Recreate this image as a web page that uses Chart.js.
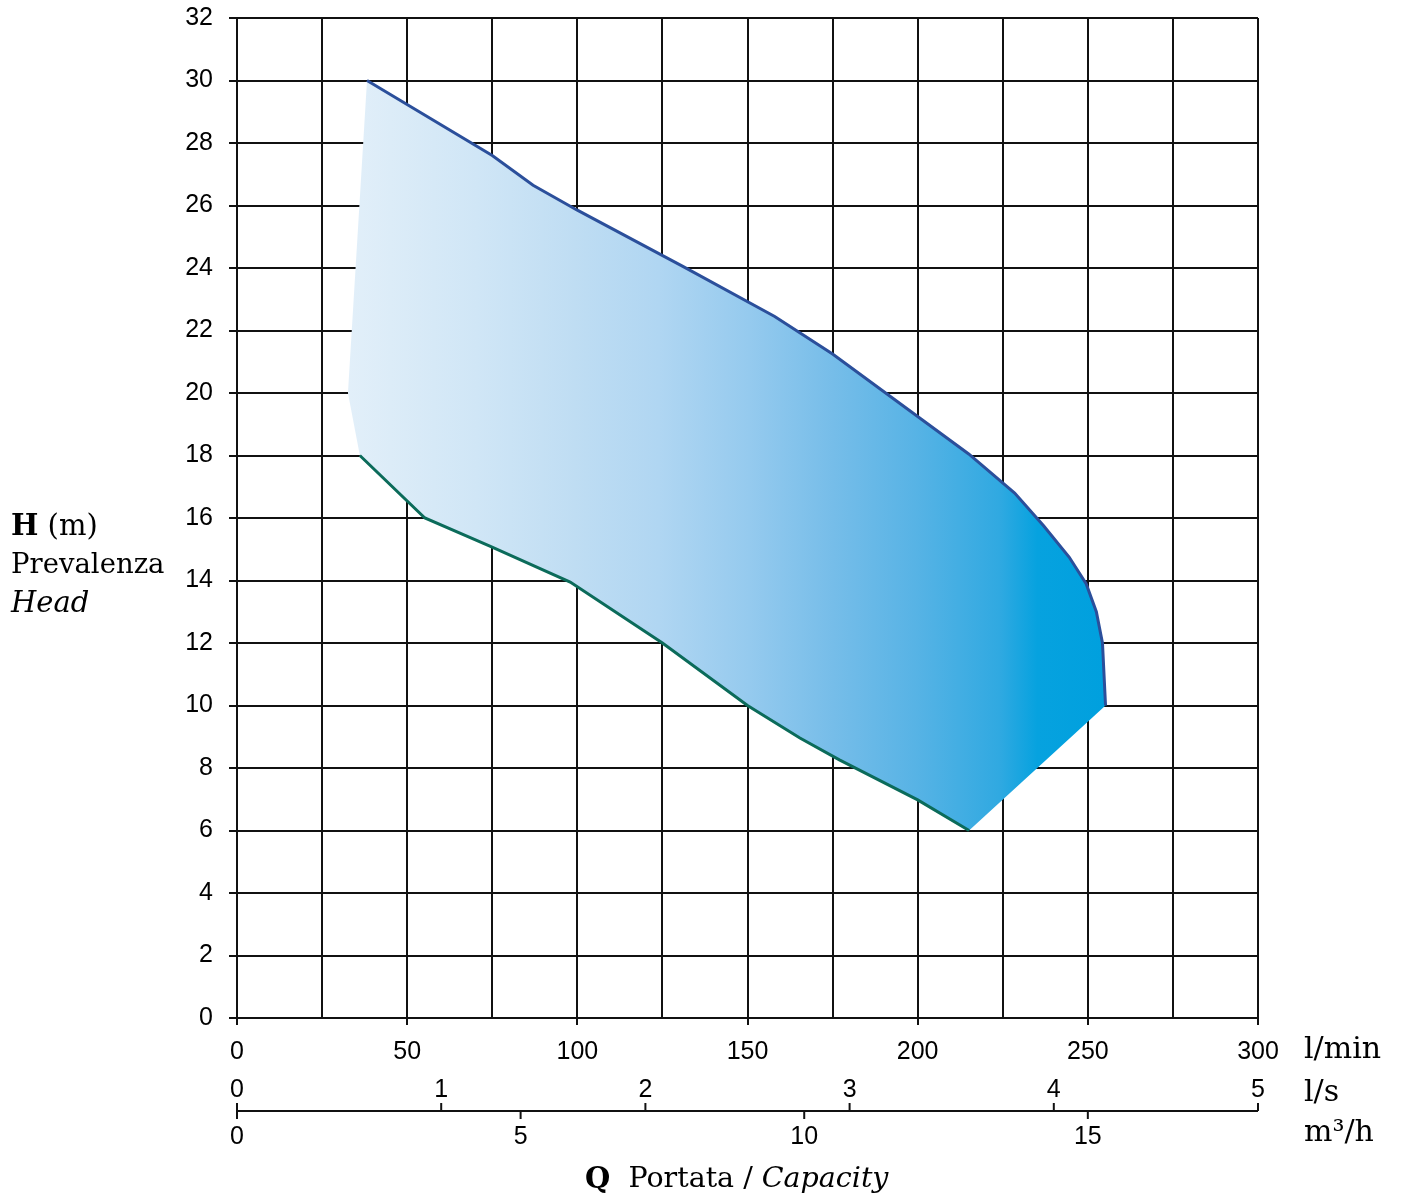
<!DOCTYPE html>
<html><head><meta charset="utf-8">
<script src="https://cdn.jsdelivr.net/npm/chart.js@4.4.0/dist/chart.umd.min.js"></script>
<style>html,body{margin:0;padding:0;background:#fff;}#wrap{width:1402px;height:1203px;}</style>
</head><body><div id="wrap"><canvas id="c" width="1402" height="1203"></canvas></div>
<script>
// ---- data (l/min vs m) ----
const flowMin = 0, flowMax = 300;          // l/min
const headMin = 0, headMax = 32;           // m
const lpsTicks = [0, 1, 2, 3, 4, 5];       // l/s
const m3hTicks = [0, 5, 10, 15];           // m3/h
const upperQ = [38.2, 75, 87, 100, 131, 158, 175, 200, 215, 228.5, 237, 244.5, 249.5, 252.5, 254.3, 255.2];
const upperH = [30, 27.6, 26.65, 25.85, 24.05, 22.45, 21.25, 19.25, 18.05, 16.8, 15.75, 14.75, 13.9, 13.0, 12.0, 10.0];
const lowerQ = [36.1, 55.2, 74.3, 97.9, 125, 150, 165.4, 177, 200, 215.1];
const lowerH = [18, 16, 15.1, 13.95, 12, 10, 8.96, 8.26, 6.98, 6.0];
const leftEdgeQ = [32.6];
const leftEdgeH = [20];

const toPts = (qs, hs) => qs.map((q, i) => ({x: q, y: hs[i]}));
const upperPts = toPts(upperQ, upperH);
const lowerPts = toPts(lowerQ, lowerH);
const areaPts = upperPts
  .concat(lowerPts.slice().reverse())
  .concat(toPts(leftEdgeQ, leftEdgeH))
  .concat([upperPts[0]]);

const SANS = '"Liberation Sans", Arial, sans-serif';
const SERIF = '"DejaVu Serif", Georgia, serif';

function areaGradient(context) {
  const chart = context.chart;
  const sx = chart.scales.x;
  if (!chart.chartArea || !sx) return 'rgba(160,210,240,1)';
  const x0 = sx.getPixelForValue(Math.min(...leftEdgeQ, ...lowerQ, ...upperQ));
  const x1 = sx.getPixelForValue(Math.max(...upperQ));
  const g = chart.ctx.createLinearGradient(x0, 0, x1, 0);
  const stops = [[0,'#e2eff9'],[0.17,'#d0e6f6'],[0.30,'#bfddf3'],[0.41,'#b0d6f2'],[0.53,'#95caee'],
                 [0.64,'#76bde9'],[0.75,'#57b3e5'],[0.86,'#30a9e1'],[0.91,'#06a2df'],[1,'#00a0de']];
  stops.forEach(s => g.addColorStop(s[0], s[1]));
  return g;
}

function drawRuns(ctx, x, y, runs) {
  ctx.textBaseline = 'middle';
  ctx.textAlign = 'left';
  for (const r of runs) {
    ctx.font = r.font;
    ctx.fillText(r.text, x, y);
    x += ctx.measureText(r.text).width;
  }
}

const extraAxes = {
  id: 'extraAxes',
  afterDraw(chart) {
    const ctx = chart.ctx;
    const sx = chart.scales.x;
    const base = chart.chartArea.bottom;
    const lineY = base + 93;
    ctx.save();
    ctx.strokeStyle = '#111';
    ctx.fillStyle = '#000';
    ctx.lineWidth = 2;
    ctx.beginPath();
    ctx.moveTo(sx.getPixelForValue(flowMin), lineY);
    ctx.lineTo(sx.getPixelForValue(flowMax), lineY);
    ctx.stroke();
    ctx.font = '25px ' + SANS;
    ctx.textAlign = 'center';
    ctx.textBaseline = 'middle';
    for (const v of lpsTicks) {
      const px = sx.getPixelForValue(v * 60);
      ctx.beginPath(); ctx.moveTo(px, lineY); ctx.lineTo(px, lineY - 8); ctx.stroke();
      ctx.fillText(String(v), px, base + 72);
    }
    for (const v of m3hTicks) {
      const px = sx.getPixelForValue(v * 1000 / 60);
      ctx.beginPath(); ctx.moveTo(px, lineY); ctx.lineTo(px, lineY + 8); ctx.stroke();
      ctx.fillText(String(v), px, base + 119);
    }
    // unit labels
    const ux = sx.getPixelForValue(flowMax) + 46;
    drawRuns(ctx, ux, base + 32, [{text: 'l/min', font: '30px ' + SERIF}]);
    drawRuns(ctx, ux, base + 75, [{text: 'l/s', font: '30px ' + SERIF}]);
    drawRuns(ctx, ux, base + 115, [{text: 'm³/h', font: '30px ' + SERIF}]);
    // x title
    drawRuns(ctx, 585, base + 162, [
      {text: 'Q', font: 'bold 29px ' + SERIF},
      {text: '  Portata / ', font: '28.5px ' + SERIF},
      {text: 'Capacity', font: 'italic 28.5px ' + SERIF}
    ]);
    // y title
    drawRuns(ctx, 11, 527, [
      {text: 'H', font: 'bold 29px ' + SERIF},
      {text: ' (m)', font: '29px ' + SERIF}
    ]);
    drawRuns(ctx, 11, 566, [{text: 'Prevalenza', font: '27.5px ' + SERIF}]);
    drawRuns(ctx, 11, 604, [{text: 'Head', font: 'italic 29px ' + SERIF}]);
    ctx.restore();
  }
};

new Chart(document.getElementById('c'), {
  type: 'line',
  data: {
    datasets: [
      {data: areaPts, fill: 'shape', backgroundColor: areaGradient, borderWidth: 0,
       borderColor: 'rgba(0,0,0,0)', pointRadius: 0, tension: 0, order: 3},
      {data: upperPts, fill: false, borderColor: '#2b4f9b', borderWidth: 3, pointRadius: 0, tension: 0, order: 1},
      {data: lowerPts, fill: false, borderColor: '#0b6b5a', borderWidth: 3, pointRadius: 0, tension: 0, order: 2}
    ]
  },
  options: {
    responsive: false,
    animation: false,
    devicePixelRatio: 1,
    layout: {padding: {top: 18, right: 144, left: 0, bottom: 0}},
    plugins: {legend: {display: false}, tooltip: {enabled: false}},
    scales: {
      x: {
        type: 'linear', min: flowMin, max: flowMax, position: 'bottom', z: 1,
        ticks: {stepSize: 25, autoSkip: false, maxRotation: 0, padding: 12, color: '#000',
                font: {family: SANS, size: 25},
                callback: v => (v % 50 === 0 ? String(v) : '')},
        grid: {color: '#111', lineWidth: 2, tickLength: 7,
               tickColor: c => (c.tick && c.tick.value % 50 === 0 ? '#111' : 'rgba(0,0,0,0)')},
        border: {color: '#111', width: 2},
        afterFit: s => { s.height = 185; s.paddingLeft = 0; s.paddingRight = 0; }
      },
      y: {
        type: 'linear', min: headMin, max: headMax, position: 'left', z: 1,
        ticks: {stepSize: 2, padding: 16, color: '#000', font: {family: SANS, size: 25}},
        grid: {color: '#111', lineWidth: 2, tickLength: 8},
        border: {color: '#111', width: 2},
        afterFit: s => { s.width = 237; s.paddingTop = 0; s.paddingBottom = 0; }
      }
    }
  },
  plugins: [extraAxes]
});
</script>
</body></html>
